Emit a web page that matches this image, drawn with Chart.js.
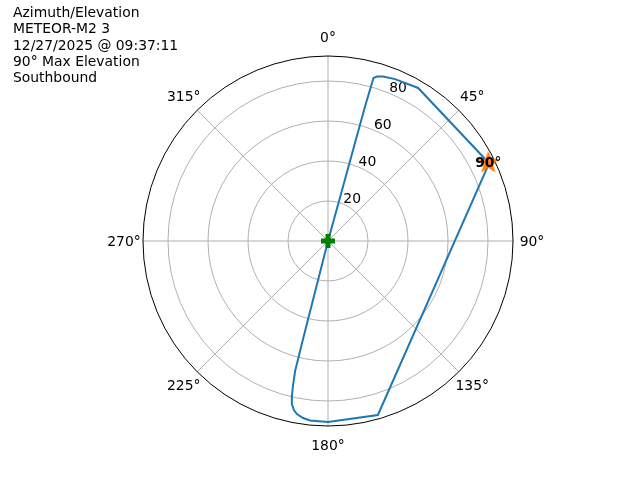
<!DOCTYPE html>
<html>
<head>
<meta charset="utf-8">
<script src="https://cdn.jsdelivr.net/npm/chart.js@4"></script>
<style>
  body { margin: 0; background: #fff; }
  #wrap { width: 640px; height: 480px; }
</style>
</head>
<body>
<div id="wrap"><canvas id="polarChart" width="640" height="480"></canvas></div>
<script>
// pass track: azimuth (deg, clockwise from north) and zenith distance (90 - elevation)
const azimuth = [63.7, 30.5, 22.5, 18.5, 16.6, 15.6, 15.4, 15.4, 15.4, 15.4, 0,
                 194.3, 194.3, 194.3, 194.2, 193.6, 193.1, 192.5, 191.4, 190.2,
                 188.0, 185.7, 180.0, 164.0, 64.4];
const zenithDist = [89.2, 88.8, 87.6, 86.7, 85.8, 84.6, 70, 50, 30, 10, 0,
                    10, 30, 50, 67, 74.6, 79.6, 83.5, 86.2, 87.9,
                    89.4, 90.2, 90.5, 90.5, 89.2];

const startAz = [64.0];
const startDist = [89.2];
const startLabel = '90';
const maxAz = [0];
const maxDist = [0];

const radialTicks = [20, 40, 60, 80];
const angleTicks = [0, 45, 90, 135, 180, 225, 270, 315];
const rMax = 92.5;

const titleLines = ['Azimuth/Elevation', 'METEOR-M2 3', '12/27/2025 @ 09:37:11',
                    '90° Max Elevation', 'Southbound'];

const FONT = '"DejaVu Sans", sans-serif';

function toXY(az, r) {
    return az.map(function(a, i) {
        const t = a * Math.PI / 180;
        return { x: r[i] * Math.sin(t), y: r[i] * Math.cos(t) };
    });
}

function starImage(size, color) {
    const c = document.createElement('canvas');
    c.width = size; c.height = size;
    const g = c.getContext('2d');
    const cx = size / 2, cy = size / 2, ro = size / 2, ri = ro * 0.42;
    g.beginPath();
    for (let k = 0; k < 10; k++) {
        const rr = k % 2 ? ri : ro;
        const a = -Math.PI / 2 + k * Math.PI / 5;
        g.lineTo(cx + rr * Math.cos(a), cy + rr * Math.sin(a));
    }
    g.closePath();
    g.fillStyle = color;
    g.fill();
    return c;
}

function plusImage(size, arm, color) {
    const c = document.createElement('canvas');
    c.width = size; c.height = size;
    const g = c.getContext('2d');
    g.fillStyle = color;
    const o = (size - arm) / 2;
    g.fillRect(o, 0, arm, size);
    g.fillRect(0, o, size, arm);
    return c;
}

const polarGrid = {
    id: 'polarGrid',
    beforeDatasetsDraw(chart) {
        const ctx = chart.ctx;
        const xs = chart.scales.x, ys = chart.scales.y;
        const cx = xs.getPixelForValue(0), cy = ys.getPixelForValue(0);
        const pr = v => xs.getPixelForValue(v) - cx;
        ctx.save();
        ctx.strokeStyle = '#b0b0b0';
        ctx.lineWidth = 1;
        radialTicks.forEach(function(v) {
            ctx.beginPath();
            ctx.arc(cx, cy, pr(v), 0, Math.PI * 2);
            ctx.stroke();
        });
        angleTicks.forEach(function(a) {
            const t = a * Math.PI / 180;
            ctx.beginPath();
            ctx.moveTo(cx, cy);
            ctx.lineTo(cx + pr(rMax) * Math.sin(t), cy - pr(rMax) * Math.cos(t));
            ctx.stroke();
        });
        ctx.strokeStyle = '#000';
        ctx.beginPath();
        ctx.arc(cx, cy, pr(rMax), 0, Math.PI * 2);
        ctx.stroke();

        ctx.fillStyle = '#000';
        ctx.font = '13.9px ' + FONT;
        ctx.textAlign = 'center';
        ctx.textBaseline = 'middle';
        angleTicks.forEach(function(a) {
            const t = a * Math.PI / 180;
            const d = pr(rMax) + 19;
            ctx.fillText(a + '°', cx + d * Math.sin(t), cy - d * Math.cos(t) + 1);
        });
        ctx.textAlign = 'left';
        ctx.textBaseline = 'bottom';
        const rt = 22.5 * Math.PI / 180;
        radialTicks.forEach(function(v) {
            ctx.fillText(String(v), cx + pr(v) * Math.sin(rt), cy - pr(v) * Math.cos(rt) + 2);
        });
        ctx.restore();
    },
    afterDatasetsDraw(chart) {
        const ctx = chart.ctx;
        const p = toXY(startAz, startDist)[0];
        const px = chart.scales.x.getPixelForValue(p.x);
        const py = chart.scales.y.getPixelForValue(p.y) + 1;
        ctx.save();
        ctx.fillStyle = '#000';
        ctx.textBaseline = 'middle';
        ctx.textAlign = 'left';
        ctx.font = 'bold 13.9px ' + FONT;
        const wb = ctx.measureText(startLabel).width;
        ctx.font = '13.9px ' + FONT;
        const wd = ctx.measureText('°').width;
        const x0 = px - (wb + wd) / 2;
        ctx.fillText('°', x0 + wb, py);
        ctx.font = 'bold 13.9px ' + FONT;
        ctx.fillText(startLabel, x0, py);
        ctx.restore();
    },
    afterDraw(chart) {
        const ctx = chart.ctx;
        ctx.save();
        ctx.fillStyle = '#000';
        ctx.font = '13.9px ' + FONT;
        ctx.textAlign = 'left';
        ctx.textBaseline = 'alphabetic';
        titleLines.forEach(function(line, i) {
            ctx.fillText(line, 13, 17 + i * 16.25);
        });
        ctx.restore();
    }
};

new Chart(document.getElementById('polarChart'), {
    type: 'scatter',
    data: {
        datasets: [{
            label: 'max',
            data: toXY(maxAz, maxDist),
            pointStyle: plusImage(14, 5, '#008000'),
            pointRadius: 7,
            clip: false
        }, {
            label: 'start',
            data: toXY(startAz, startDist),
            pointStyle: starImage(24, '#ff7f0e'),
            pointRadius: 12,
            clip: false
        }, {
            label: 'track',
            data: toXY(azimuth, zenithDist),
            showLine: true,
            borderColor: '#1f77b4',
            borderWidth: 2,
            pointRadius: 0,
            tension: 0,
            clip: false
        }]
    },
    options: {
        responsive: false,
        animation: false,
        layout: { padding: { left: 143, right: 127, top: 56, bottom: 54 } },
        scales: {
            x: { type: 'linear', min: -rMax, max: rMax, display: false },
            y: { type: 'linear', min: -rMax, max: rMax, display: false }
        },
        plugins: {
            legend: { display: false },
            tooltip: { enabled: false }
        }
    },
    plugins: [polarGrid]
});
</script>
</body>
</html>
